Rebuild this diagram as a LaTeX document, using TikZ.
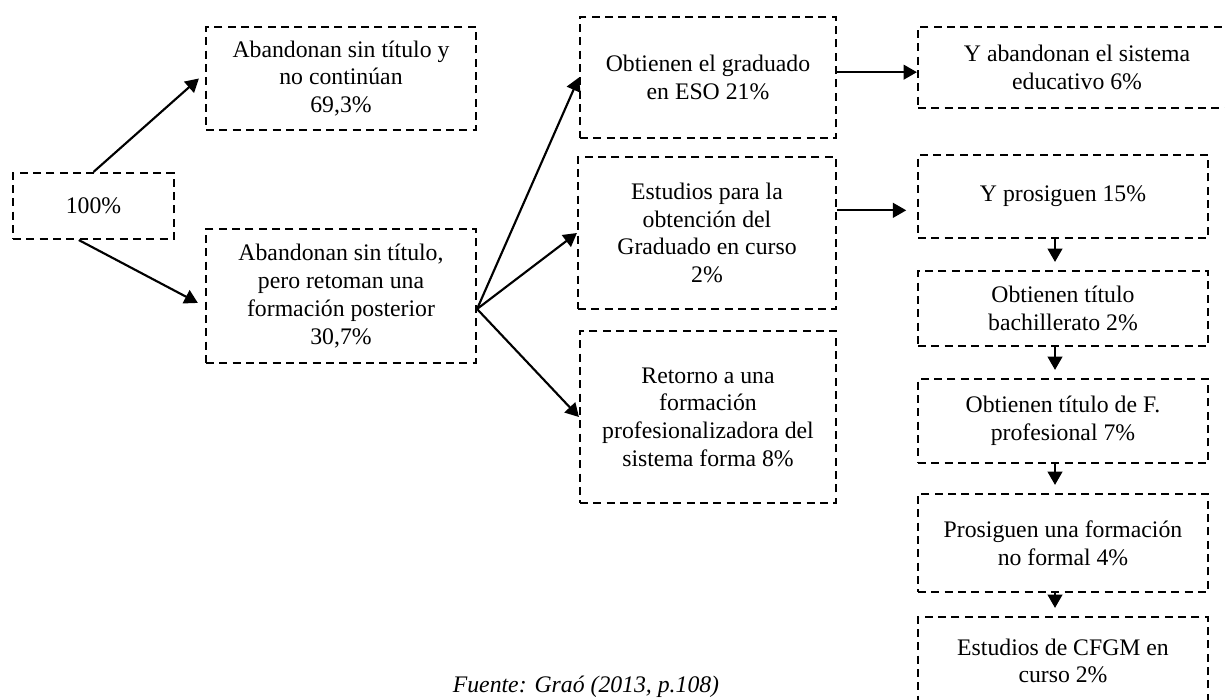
\documentclass[tikz,border=0pt]{standalone}
\usepackage{fontspec}
\setmainfont{Liberation Serif}
\usetikzlibrary{arrows.meta}

\begin{document}
\begin{tikzpicture}[x=0.75pt, y=-0.75pt, align=center,
	caja/.style = {draw, dash pattern=on 6pt off 4pt, line width=1.6pt, inner sep=2pt, font=\fontsize{17.8}{20.8}\selectfont},
	flecha/.style = {-{Triangle[length=10pt, width=11pt]}, line width=1.6pt}]
	\useasboundingbox (0,0) rectangle (1225,700);
	% primera columna
	\node[caja, minimum width=120.75pt, minimum height=49.5pt] (1) at (93.5,206) {100\%};
	\node[caja, minimum width=202.5pt, minimum height=77.25pt] (2) at (341,78.5) {Abandonan sin título y\\no continúan\\69,3\%};
	\node[caja, minimum width=202.5pt, minimum height=100.5pt] (3) at (341,296) {Abandonan sin título,\\pero retoman una\\formación posterior\\30,7\%};
	% segunda columna
	\node[caja, minimum width=192pt, minimum height=90.75pt] (4) at (708,77.5) {Obtienen el graduado\\en ESO 21\%};
	\node[caja, minimum width=193.5pt, minimum height=114pt] (5) at (707,233) {Estudios para la\\obtención del\\Graduado en curso\\2\%};
	\node[caja, minimum width=192pt, minimum height=129pt] (6) at (708,417) {Retorno a una\\formación\\profesionalizadora del\\sistema forma 8\%};
	% tercera columna
	\node[caja, minimum width=238.5pt, minimum height=60.75pt] (7) at (1077,67.5) {Y abandonan el sistema\\educativo 6\%};
	\node[caja, minimum width=217.5pt, minimum height=62.25pt] (8) at (1063,196.5) {Y prosiguen 15\%};
	\node[caja, minimum width=217.5pt, minimum height=56.25pt] (9) at (1063,308.5) {Obtienen título\\bachillerato 2\%};
	\node[caja, minimum width=217.5pt, minimum height=63pt] (10) at (1063,421) {Obtienen título de F.\\profesional 7\%};
	\node[caja, minimum width=217.5pt, minimum height=73.5pt] (11) at (1063,543) {Prosiguen una formación\\no formal 4\%};
	\node[caja, minimum width=217.5pt, minimum height=66pt] (12) at (1063,661) {Estudios de CFGM en\\curso 2\%};
	\node[anchor=north, inner sep=0pt, font=\fontsize{17.8}{20.8}\selectfont\itshape] (13) at (586,676) {Fuente: Graó (2013, p.108)};
	% flechas
	\coordinate (r) at ([yshift=-9.75pt]3.east);
	\coordinate (s4) at ([yshift=4pt]4.east);
	\coordinate (s5) at ([yshift=17pt]5.east);
	\draw[flecha, shorten >=6pt] (1.north) -- ([yshift=4pt]2.west);
	\draw[flecha, shorten >=6pt] ([xshift=-11pt]1.south) -- ([yshift=-8pt]3.west);
	\draw[flecha] (r) -- (4.west);
	\draw[flecha] (r) -- (5.west);
	\draw[flecha] (r) -- (6.west);
	\draw[flecha] (s4) -- (s4 -| 7.west);
	\draw[flecha, shorten >=8pt] (s5) -- (s5 -| 8.west);
	\draw[flecha, shorten >=6pt] ([xshift=-6pt]8.south) -- ([xshift=-6pt]9.north);
	\draw[flecha, shorten >=6pt] ([xshift=-6pt]9.south) -- ([xshift=-6pt]10.north);
	\draw[flecha, shorten >=6pt] ([xshift=-6pt]10.south) -- ([xshift=-6pt]11.north);
	\draw[flecha, shorten >=6pt] ([xshift=-6pt]11.south) -- ([xshift=-6pt]12.north);
\end{tikzpicture}
\end{document}
